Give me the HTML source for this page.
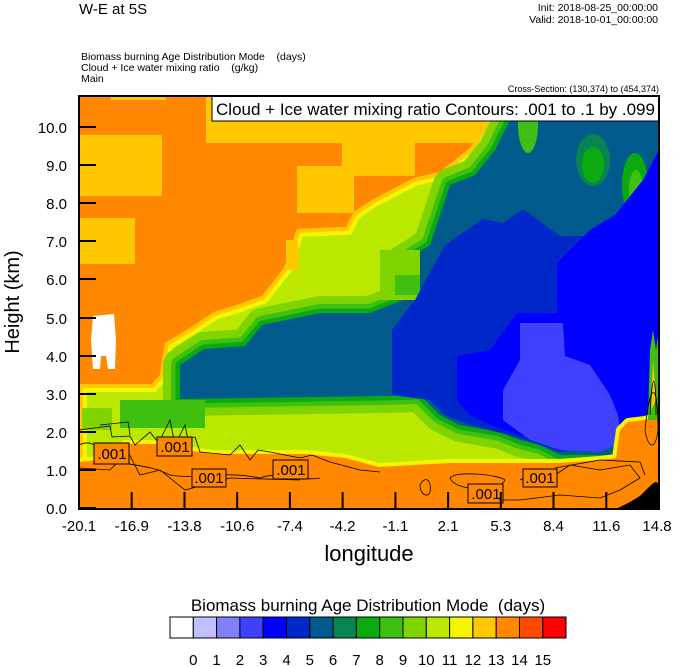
<!DOCTYPE html>
<html><head><meta charset="utf-8"><style>
html,body{margin:0;padding:0;background:#fff;}
svg{display:block;font-family:"Liberation Sans",sans-serif;}
</style></head><body>
<svg width="674" height="667" viewBox="0 0 674 667" xmlns="http://www.w3.org/2000/svg">
<defs>
<clipPath id="plot"><rect x="79" y="96" width="580" height="413"/></clipPath>
<clipPath id="ca"><polygon id="pa" points="79,384 152,384 160,375 165,343 190,328 214,312 240,304 262,296 284,268 297,229 346,227 354,212 372,200 414,178 440,172 470,148 495,108 500,96 680,96 680,520 79,520"/></clipPath>
</defs>
<text x="79" y="14" font-size="15">W-E at 5S</text>
<text x="658" y="11" font-size="10.5" text-anchor="end">Init: 2018-08-25_00:00:00</text>
<text x="658" y="23" font-size="10.5" text-anchor="end">Valid: 2018-10-01_00:00:00</text>
<text x="81" y="60" font-size="10.5" style="white-space:pre">Biomass burning Age Distribution Mode    (days)</text>
<text x="81" y="71" font-size="10.5" style="white-space:pre">Cloud + Ice water mixing ratio    (g/kg)</text>
<text x="81" y="82" font-size="10.5">Main</text>
<text x="659" y="92" font-size="9" text-anchor="end">Cross-Section: (130,374) to (454,374)</text>

<g clip-path="url(#plot)">
<rect x="79" y="96" width="580" height="413" fill="#FF8800"/>
<rect x="206" y="96" width="284" height="47" fill="#FFC800"/>
<rect x="342" y="143" width="73" height="33" fill="#FFC800"/>
<rect x="297" y="166" width="57" height="47" fill="#FFC800"/>
<rect x="79" y="135" width="83" height="61" fill="#FFC800"/>
<rect x="79" y="218" width="56" height="46" fill="#FFC800"/>
<rect x="111" y="96" width="55" height="4" fill="#FFC800"/>
<g clip-path="url(#ca)">
<rect x="79" y="96" width="600" height="420" fill="#BBE800"/>
<use href="#pa" fill="none" stroke="#F5F500" stroke-width="16"/>
<use href="#pa" fill="none" stroke="#FFC800" stroke-width="8"/>
</g>
<rect x="286" y="240" width="12" height="30" fill="#FFC800"/>
<g>
<polygon points="180,399 180,365 204,349 245,346 262,325 320,313 370,313 403,300 403,262 430,245 450,185 475,175 495,150 510,120 520,96 680,96 680,420 640,425 622,440 620,455 560,455 540,445 520,440 500,432 460,425 440,415 420,395 380,396" fill="#005A8C" stroke="#7FD400" stroke-width="34" stroke-linejoin="round"/>
<polygon points="180,399 180,365 204,349 245,346 262,325 320,313 370,313 403,300 403,262 430,245 450,185 475,175 495,150 510,120 520,96 680,96 680,420 640,425 622,440 620,455 560,455 540,445 520,440 500,432 460,425 440,415 420,395 380,396" fill="#005A8C" stroke="#3FC010" stroke-width="18" stroke-linejoin="round"/>
<polygon points="180,399 180,365 204,349 245,346 262,325 320,313 370,313 403,300 403,262 430,245 450,185 475,175 495,150 510,120 520,96 680,96 680,420 640,425 622,440 620,455 560,455 540,445 520,440 500,432 460,425 440,415 420,395 380,396" fill="#005A8C" stroke="#0AAA10" stroke-width="9" stroke-linejoin="round"/>
<polygon points="180,399 180,365 204,349 245,346 262,325 320,313 370,313 403,300 403,262 430,245 450,185 475,175 495,150 510,120 520,96 680,96 680,420 640,425 622,440 620,455 560,455 540,445 520,440 500,432 460,425 440,415 420,395 380,396" fill="#005A8C"/>
</g>
<rect x="120" y="400" width="85" height="28" fill="#3FC010"/>
<rect x="82" y="408" width="30" height="22" fill="#7FD400"/>
<rect x="380" y="250" width="40" height="50" fill="#7FD400"/>
<rect x="395" y="275" width="25" height="20" fill="#3FC010"/>
<ellipse cx="593" cy="160" rx="17" ry="26" fill="#088450"/>
<ellipse cx="593" cy="165" rx="11" ry="18" fill="#0AAA10"/>
<ellipse cx="635" cy="185" rx="13" ry="32" fill="#0AAA10"/>
<ellipse cx="636" cy="190" rx="7" ry="20" fill="#3FC010"/>
<ellipse cx="528" cy="125" rx="10" ry="28" fill="#3FC010"/>
<polygon points="392,330 415,300 445,245 483,219 503,223 523,209 560,236 680,236 680,420 640,425 622,440 560,452 520,438 470,425 445,415 430,400 392,395" fill="#0028C8"/>
<polygon points="659,150 680,150 680,420 640,425 622,440 560,450 520,435 490,425 470,415 457,400 457,356 490,350 517,313 557,313 557,263 590,230 615,215 643,180" fill="#0000FF"/>
<polygon points="520,323 563,323 565,356 590,365 610,395 618,415 622,442 600,452 560,450 530,440 503,420 503,390 520,360" fill="#4040FF"/>
<polygon points="79,462 100,460 125,444 165,444 180,449 212,454 306,454 345,458 379,467 450,463 560,463 600,460 616,458 620,430 628,422 645,420 659,415 680,415 680,520 79,520" fill="#FF8800" stroke="#F5F500" stroke-width="8" stroke-linejoin="round"/>
<polygon points="79,462 100,460 125,444 165,444 180,449 212,454 306,454 345,458 379,467 450,463 560,463 600,460 616,458 620,430 628,422 645,420 659,415 680,415 680,520 79,520" fill="#FF8800"/>
<path d="M93,316 L114,314 L116,340 L115,369 L108,369 L106,356 L101,356 L100,369 L93,369 L91,340 Z" fill="#fff"/>
<polygon points="648,420 650,350 653,330 656,350 659,330 659,420" fill="#3FC010"/>
<polygon points="651,410 653,360 656,400" fill="#FFC800"/>
<polygon points="616,509 630,502 640,496 646,490 651,485 655,482 659,483 659,509" fill="#000"/>
<g fill="none" stroke="#000" stroke-width="0.8">
<path d="M79,430 L110,426 L112,437 L130,436 L135,445 L150,432 L160,445 L170,440 L195,437 L200,452 L230,455 L240,445 L250,460 L258,450 L270,452 L300,458 L312,455 L330,462 L360,470 L380,472"/>
<path d="M79,445 C90,440 95,445 100,450 C120,470 140,460 170,475 C200,480 220,470 260,478 C280,470 300,482 320,478"/>
<path d="M80,468 L110,470 L128,452 L140,475 L160,470 L185,490 L230,478 L300,480"/>
<path d="M100,425 L128,422 L130,435"/>
<path d="M160,440 L170,420 L175,445 L185,425 L190,450"/>
<path d="M420,485 C425,475 432,480 430,492 C428,498 420,495 420,485"/>
<path d="M450,478 C455,470 500,475 505,480 C500,492 455,492 450,478 Z"/>
<path d="M480,500 L520,500 L560,495 L600,498 L620,490 L640,478 L630,465 L600,470 L570,465 L555,475 L540,470 L520,480"/>
<path d="M555,468 L600,460 L640,462 L645,475"/>
<path d="M645,430 C650,380 658,380 658,430 C656,450 648,450 645,430 Z"/>
<path d="M650,415 C652,370 656,370 656,415"/>
</g>
<g fill="#FF8800" stroke="#000" stroke-width="1">
<rect x="94" y="443" width="35" height="21"/><rect x="157" y="437" width="35" height="19"/>
<rect x="192" y="469" width="34" height="18"/><rect x="273" y="460" width="35" height="19"/>
<rect x="523" y="469" width="34" height="18"/><rect x="468" y="484" width="35" height="19"/>
</g>
<g font-size="15" text-anchor="middle" fill="#000">
<text x="112" y="459">.001</text><text x="175" y="452">.001</text>
<text x="209" y="483">.001</text><text x="291" y="475">.001</text>
<text x="540" y="483">.001</text><text x="486" y="499">.001</text>
</g>
</g>
<rect x="212" y="96" width="447" height="25" fill="#fff" stroke="#000" stroke-width="1"/>
<text x="435.5" y="115" font-size="17" text-anchor="middle">Cloud + Ice water mixing ratio Contours: .001 to .1 by .099</text>
<rect x="79" y="96" width="580" height="413" fill="none" stroke="#000" stroke-width="2"/>
<g stroke="#000" stroke-width="2">
<line x1="79" y1="508" x2="96" y2="508"/><line x1="79" y1="470" x2="96" y2="470"/><line x1="79" y1="432" x2="96" y2="432"/><line x1="79" y1="394" x2="96" y2="394"/><line x1="79" y1="356" x2="96" y2="356"/><line x1="79" y1="318" x2="96" y2="318"/><line x1="79" y1="279" x2="96" y2="279"/><line x1="79" y1="241" x2="96" y2="241"/><line x1="79" y1="203" x2="96" y2="203"/><line x1="79" y1="165" x2="96" y2="165"/><line x1="79" y1="127" x2="96" y2="127"/>
<line x1="131.7" y1="509" x2="131.7" y2="492"/><line x1="184.5" y1="509" x2="184.5" y2="492"/><line x1="237.2" y1="509" x2="237.2" y2="492"/><line x1="289.9" y1="509" x2="289.9" y2="492"/><line x1="342.6" y1="509" x2="342.6" y2="492"/><line x1="395.4" y1="509" x2="395.4" y2="492"/><line x1="448.1" y1="509" x2="448.1" y2="492"/><line x1="500.8" y1="509" x2="500.8" y2="492"/><line x1="553.5" y1="509" x2="553.5" y2="492"/><line x1="606.3" y1="509" x2="606.3" y2="492"/>
</g>
<g font-size="15" text-anchor="end">
<text x="67" y="514">0.0</text><text x="67" y="476">1.0</text><text x="67" y="438">2.0</text><text x="67" y="400">3.0</text><text x="67" y="362">4.0</text><text x="67" y="324">5.0</text><text x="67" y="285">6.0</text><text x="67" y="247">7.0</text><text x="67" y="209">8.0</text><text x="67" y="171">9.0</text><text x="67" y="133">10.0</text>
</g>
<text transform="translate(19,302) rotate(-90)" font-size="20" text-anchor="middle">Height (km)</text>
<g font-size="15" text-anchor="middle">
<text x="79" y="531">-20.1</text><text x="131.7" y="531">-16.9</text><text x="184.5" y="531">-13.8</text><text x="237.2" y="531">-10.6</text><text x="289.9" y="531">-7.4</text><text x="342.6" y="531">-4.2</text><text x="395.4" y="531">-1.1</text><text x="448.1" y="531">2.1</text><text x="500.8" y="531">5.3</text><text x="553.5" y="531">8.4</text><text x="606.3" y="531">11.6</text><text x="657" y="531">14.8</text>
</g>
<text x="369" y="561" font-size="22" text-anchor="middle">longitude</text>
<text x="368" y="611" font-size="17" text-anchor="middle" style="white-space:pre">Biomass burning Age Distribution Mode  (days)</text>
<g stroke="#000" stroke-width="1">
<rect x="170" y="617" width="23.3" height="21" fill="#FFFFFF"/>
<rect x="193.3" y="617" width="23.3" height="21" fill="#C0C0FF"/>
<rect x="216.6" y="617" width="23.3" height="21" fill="#8080FF"/>
<rect x="239.9" y="617" width="23.3" height="21" fill="#4040FF"/>
<rect x="263.2" y="617" width="23.3" height="21" fill="#0000FF"/>
<rect x="286.5" y="617" width="23.3" height="21" fill="#0028C8"/>
<rect x="309.8" y="617" width="23.3" height="21" fill="#005A8C"/>
<rect x="333.1" y="617" width="23.3" height="21" fill="#088450"/>
<rect x="356.4" y="617" width="23.3" height="21" fill="#0AAA10"/>
<rect x="379.7" y="617" width="23.3" height="21" fill="#3FC010"/>
<rect x="403" y="617" width="23.3" height="21" fill="#7FD400"/>
<rect x="426.3" y="617" width="23.3" height="21" fill="#BBE800"/>
<rect x="449.6" y="617" width="23.3" height="21" fill="#F5F500"/>
<rect x="472.9" y="617" width="23.3" height="21" fill="#FFC800"/>
<rect x="496.2" y="617" width="23.3" height="21" fill="#FF8800"/>
<rect x="519.5" y="617" width="23.3" height="21" fill="#FF4A00"/>
<rect x="542.8" y="617" width="23.2" height="21" fill="#FF0000"/>
</g>
<g font-size="15" text-anchor="middle">
<text x="193.3" y="665">0</text><text x="216.6" y="665">1</text><text x="239.9" y="665">2</text><text x="263.2" y="665">3</text><text x="286.5" y="665">4</text><text x="309.8" y="665">5</text><text x="333.1" y="665">6</text><text x="356.4" y="665">7</text><text x="379.7" y="665">8</text><text x="403" y="665">9</text><text x="426.3" y="665">10</text><text x="449.6" y="665">11</text><text x="472.9" y="665">12</text><text x="496.2" y="665">13</text><text x="519.5" y="665">14</text><text x="542.8" y="665">15</text>
</g>
</svg>
</body></html>
